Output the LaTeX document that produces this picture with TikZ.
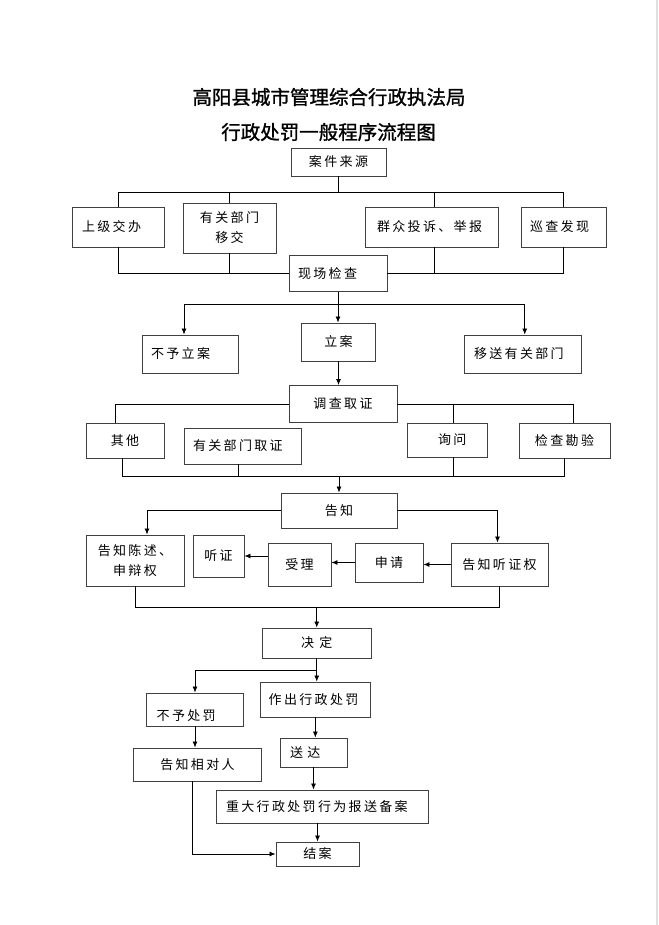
\documentclass[tikz,border=0pt]{standalone}
\usepackage{fontspec}
\newfontfamily\boxfont{Noto Sans CJK SC}[LetterSpace=18]
\newfontfamily\titlefont{Noto Sans CJK SC}[FakeBold=1.2]
\usetikzlibrary{arrows.meta}

\tikzset{
  box/.style={draw=black!75, line width=0.9pt, inner sep=0pt, align=center,
    font=\boxfont\fontsize{13}{20}\selectfont},
  wh/.style 2 args={minimum width=#1pt, minimum height=#2pt},
  lpad/.style 2 args={inner xsep=#1pt, text width=#2pt, align=left},
  conn/.style={line width=0.8pt},
  arr/.style={line width=0.8pt, -{Latex[length=6pt,width=5pt]}},
  heading/.style={font=\titlefont\fontsize{19.5}{24}\selectfont}
}

\begin{document}
\begin{tikzpicture}[x=1pt,y=-1pt]
  \useasboundingbox (0,0) rectangle (658,925);
  \fill[black!12] (655.5,0) rectangle (658,925);

  \node[heading] (t1) at (329,97) {高阳县城市管理综合行政执法局};
  \node[heading] (t2) at (328.5,132) {行政处罚一般程序流程图};

  \node[box, wh={95}{28}] (case) at (338.5,162) {案件来源};
  \node[box, wh={92}{40}, lpad={10}{72}] (sj) at (118,227) {上级交办};
  \node[box, wh={93}{50}] (ygbm) at (229.5,228) {有关部门\\移交};
  \node[box, wh={133}{40}, lpad={12}{109}] (qz) at (431.5,227) {群众投诉、举报};
  \node[box, wh={85}{40}, lpad={9}{67}] (xc) at (563.5,227) {巡查发现};
  \node[box, wh={98}{36}, lpad={9}{80}] (xcjc) at (338,273.5) {现场检查};

  \node[box, wh={96}{38}, lpad={9}{78}] (byla) at (190,354) {不予立案};
  \node[box, wh={74}{38}] (la) at (338.5,342) {立案};
  \node[box, wh={117.5}{38}, lpad={10}{97.5}] (ys) at (522.75,354) {移送有关部门};

  \node[box, wh={108}{37}] (dc) at (343,404) {调查取证};
  \node[box, wh={78}{35}] (qt) at (125,440.5) {其他};
  \node[box, wh={117}{36}, lpad={9}{99}] (yq) at (242.5,446) {有关部门取证};
  \node[box, wh={80}{34}] (xw) at (447.8,440) {\hspace{9pt}询问};
  \node[box, wh={91}{35}] (jk) at (564.5,440.5) {检查勘验};

  \node[box, wh={116}{35}] (gz) at (339,510.5) {告知};
  \node[box, wh={98}{51}] (gzcs) at (135,560.5) {告知陈述、\\申辩权};
  \node[box, wh={51}{42}] (tz) at (218.5,556) {听证};
  \node[box, wh={63}{43}] (sl) at (299.5,564.5) {受理};
  \node[box, wh={68}{39}] (sq) at (389,562.5) {申请};
  \node[box, wh={97}{43}] (gzt) at (499.5,564.5) {告知听证权};

  \node[box, wh={108.5}{30}] (jd) at (316.75,643) {决 定};
  \node[box, wh={96.6}{33}, lpad={10}{76.6}, text height=21pt, text depth=0pt] (bycf) at (195,709.5) {不予处罚};
  \node[box, wh={109.3}{35}, lpad={8}{93.3}] (zc) at (315.35,699.5) {作出行政处罚};
  \node[box, wh={128.7}{33}] (gzxd) at (197.5,764.5) {告知相对人};
  \node[box, wh={67}{29}, lpad={10}{47}] (sd) at (313.5,752.5) {送 达};
  \node[box, wh={212}{33}, lpad={10}{192}] (zd) at (322,806.5) {重大行政处罚行为报送备案};
  \node[box, wh={83}{24}] (ja) at (317.5,854) {结案};

  \draw[conn] (case.south) -- ++(0,16) coordinate (top);
  \draw[conn] (sj.north) -- (sj.north |- top) -- (xc.north |- top) -- (xc.north);
  \draw[conn] (ygbm.north) -- (ygbm.north |- top);
  \draw[conn] ([xshift=3pt]qz.north) -- ([xshift=3pt]qz.north |- top);
  \draw[conn] (sj.south) |- (xcjc.west);
  \draw[conn] (ygbm.south) -- (ygbm.south |- xcjc.west);
  \draw[conn] (xc.south) |- (xcjc.east);
  \draw[conn] ([xshift=3pt]qz.south) -- ([xshift=3pt]qz.south |- xcjc.east);

  \path (xcjc.south) ++(0,12.5) coordinate (fork);
  \draw[arr] (xcjc.south) -- (xcjc.south |- la.north);
  \draw[arr] (fork) -| ([xshift=-6pt]byla.north);
  \draw[arr] (fork) -| ([xshift=2pt]ys.north);

  \draw[arr] (la.south) -- (la.south |- dc.north);
  \draw[conn] (dc.west) -| ([xshift=-9.5pt]qt.north);
  \draw[conn] (dc.east) -| ([xshift=9pt]jk.north);
  \draw[conn] ([xshift=6pt]xw.north) -- ([xshift=6pt]xw.north |- dc.east);
  \draw[conn] ([xshift=-3pt]qt.south) -- ++(0,18) coordinate (m3) -| (jk.south);
  \draw[conn] ([xshift=-4.5pt]yq.south) -- ([xshift=-4.5pt]yq.south |- m3);
  \draw[conn] ([xshift=6pt]xw.south) -- ([xshift=6pt]xw.south |- m3);
  \draw[arr] (m3 -| gz.north) -- (gz.north);

  \draw[arr] (gz.west) -| ([xshift=12pt]gzcs.north);
  \draw[arr] (gz.east) -| ([xshift=-2pt]gzt.north);
  \draw[arr] (gzt.west) -- (gzt.west -| sq.east);
  \draw[arr] (sq.west) -- (sq.west -| sl.east);
  \draw[arr] (sl.west |- tz.east) -- (tz.east);
  \draw[conn] (gzcs.south) -- ++(0,21) coordinate (m4) -| (gzt.south);
  \draw[arr] (m4 -| jd.north) -- (jd.north);

  \path (jd.south) ++(0,11.5) coordinate (m5);
  \draw[arr] (jd.south) -- (jd.south |- zc.north);
  \draw[arr] (m5) -| (bycf.north);
  \draw[arr] (bycf.south) -- (bycf.south |- gzxd.north);
  \draw[arr] (zc.south) -- (zc.south |- sd.north);
  \draw[arr] (sd.south) -- (sd.south |- zd.north);
  \draw[arr] (zd.south -| ja.north) -- (ja.north);
  \draw[arr] ([xshift=-5pt]gzxd.south) |- (ja.west);
\end{tikzpicture}
\end{document}
